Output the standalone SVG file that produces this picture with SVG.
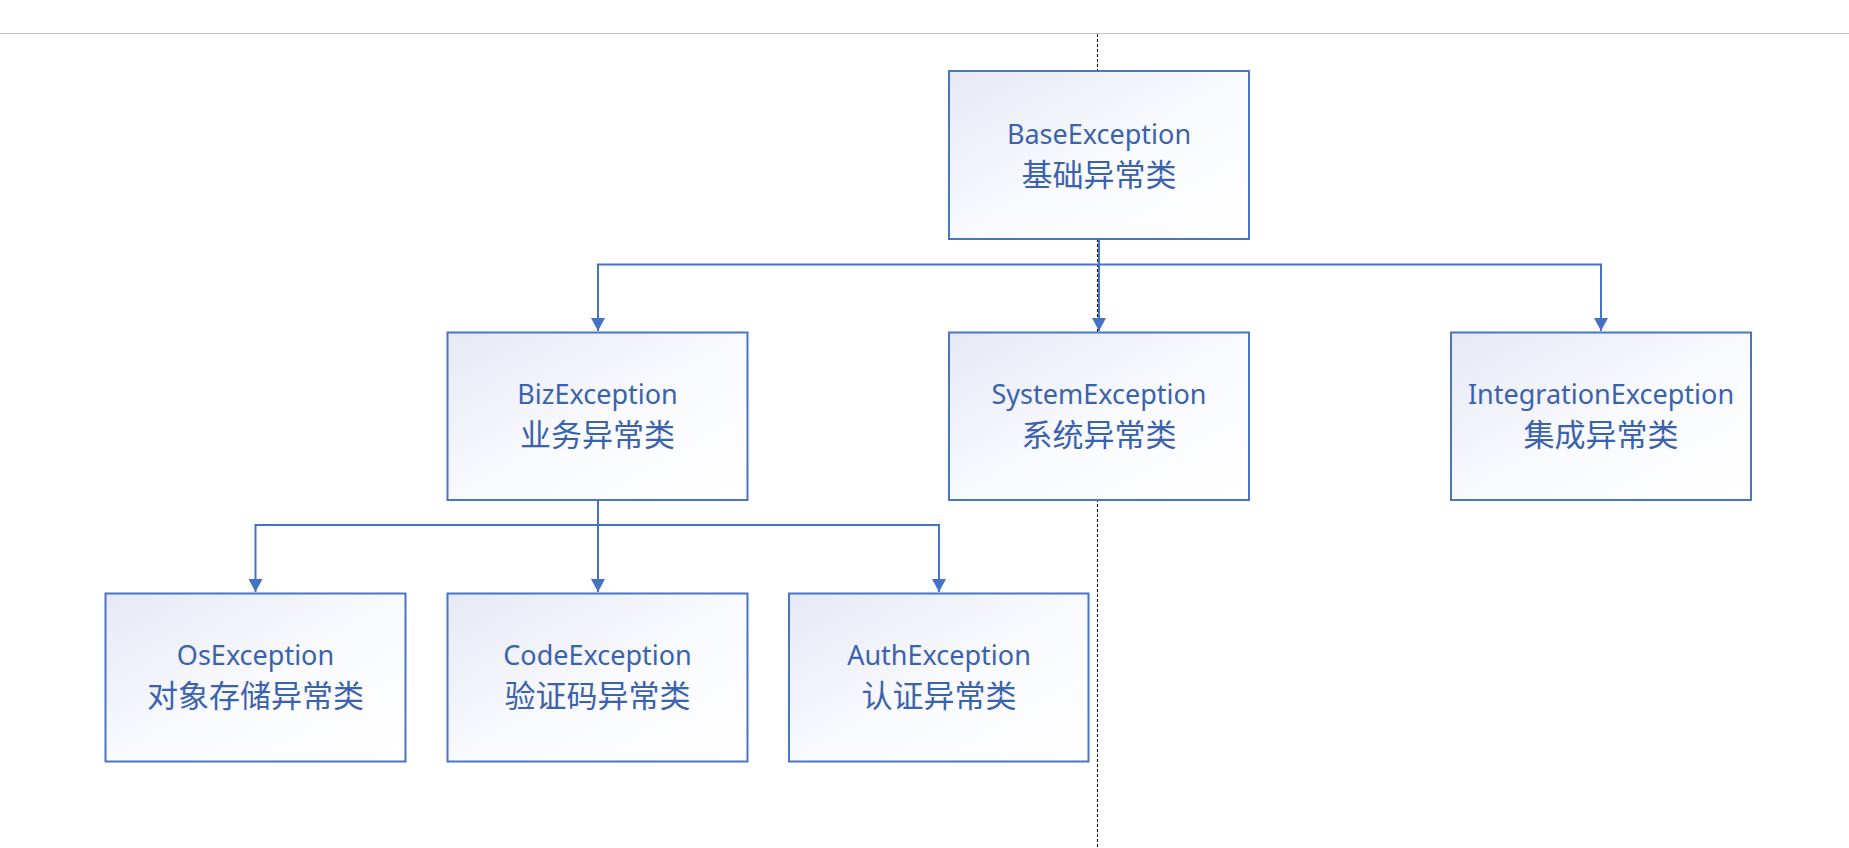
<svg xmlns="http://www.w3.org/2000/svg" width="1849" height="848" viewBox="0 0 1849 848">
<defs>
<linearGradient id="boxfill" x1="0" y1="0" x2="1" y2="1">
<stop offset="0" stop-color="#e6e9f5"/>
<stop offset="0.55" stop-color="#fafbfe"/>
<stop offset="1" stop-color="#ffffff"/>
</linearGradient>
<marker id="arrow" markerUnits="userSpaceOnUse" markerWidth="14" markerHeight="14" refX="13" refY="7" orient="auto">
<path d="M0,0 L13,7 L0,14 z" fill="#4472c4"/>
</marker>
<style>
.box{fill:url(#boxfill);stroke:#4a74c4;stroke-width:2}
.en{font-family:"Noto Sans","Open Sans","Liberation Sans",sans-serif;font-size:27px;fill:#3b62ad;text-anchor:middle}
.zh{font-family:"Noto Sans CJK SC","Noto Sans",sans-serif;font-size:31px;fill:#3b62ad;text-anchor:middle}
.conn{fill:none;stroke:#4472c4;stroke-width:2}
</style>
</defs>
<rect x="0" y="0" width="1849" height="848" fill="#ffffff"/>
<line x1="0" y1="33.5" x2="1849" y2="33.5" stroke="#c6c6c6" stroke-width="1"/>
<line x1="1097.5" y1="34" x2="1097.5" y2="848" stroke="#000000" stroke-width="1" stroke-dasharray="3,2"/>
<g id="connectors">
<path class="conn" d="M1099,240 V264.5 H598 V331" marker-end="url(#arrow)"/>
<path class="conn" d="M1099,240 V331" marker-end="url(#arrow)"/>
<path class="conn" d="M1099,264.5 H1601 V331" marker-end="url(#arrow)"/>
<path class="conn" d="M598,501 V525 H255.5 V592" marker-end="url(#arrow)"/>
<path class="conn" d="M598,501 V592" marker-end="url(#arrow)"/>
<path class="conn" d="M598,525 H939 V592" marker-end="url(#arrow)"/>
</g>
<g id="node-base">
<rect class="box" x="949" y="71" width="300" height="168"/>
<text class="en" x="1099" y="144">BaseException</text>
<text class="zh" x="1099" y="186">基础异常类</text>
</g>
<g id="node-biz">
<rect class="box" x="447.5" y="332.5" width="300" height="167.5"/>
<text class="en" x="597.5" y="404">BizException</text>
<text class="zh" x="597.5" y="446">业务异常类</text>
</g>
<g id="node-system">
<rect class="box" x="949" y="332.5" width="300" height="167.5"/>
<text class="en" x="1099" y="404">SystemException</text>
<text class="zh" x="1099" y="446">系统异常类</text>
</g>
<g id="node-integration">
<rect class="box" x="1451" y="332.5" width="300" height="167.5"/>
<text class="en" x="1601" y="404">IntegrationException</text>
<text class="zh" x="1601" y="446">集成异常类</text>
</g>
<g id="node-os">
<rect class="box" x="105.5" y="593.5" width="300" height="168"/>
<text class="en" x="255.5" y="665">OsException</text>
<text class="zh" x="255.5" y="707">对象存储异常类</text>
</g>
<g id="node-code">
<rect class="box" x="447.5" y="593.5" width="300" height="168"/>
<text class="en" x="597.5" y="665">CodeException</text>
<text class="zh" x="597.5" y="707">验证码异常类</text>
</g>
<g id="node-auth">
<rect class="box" x="789" y="593.5" width="299.5" height="168"/>
<text class="en" x="939" y="665">AuthException</text>
<text class="zh" x="939" y="707">认证异常类</text>
</g>
</svg>
